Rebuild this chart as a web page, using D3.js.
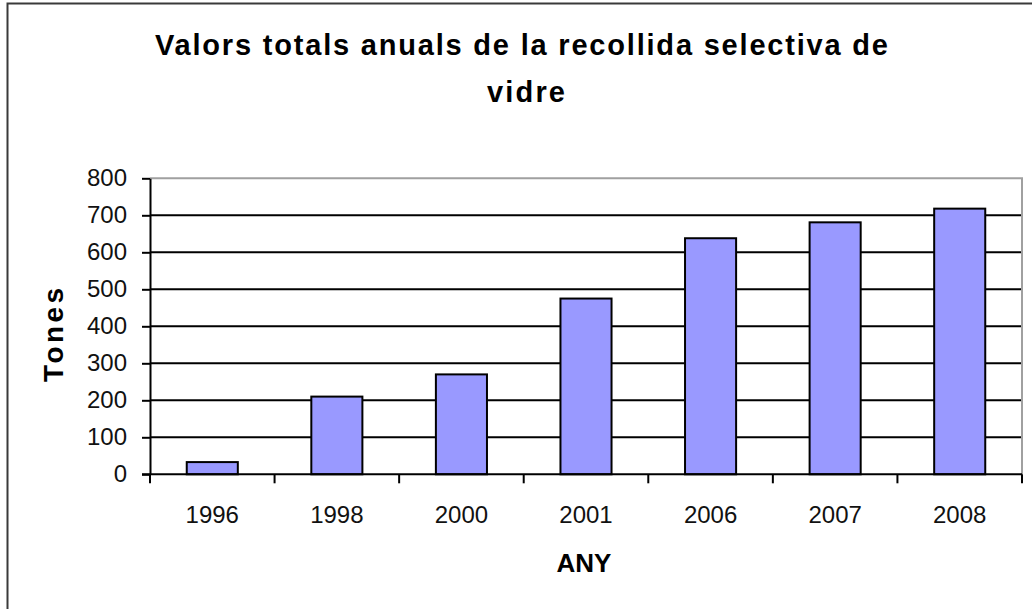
<!DOCTYPE html>
<html>
<head>
<meta charset="utf-8">
<script src="https://cdn.jsdelivr.net/npm/d3@7"></script>
<style>
  body { margin: 0; background: #fff; }
  svg { display: block; font-family: "Liberation Sans", Arial, sans-serif; }
</style>
</head>
<body>
<div id="chart"></div>
<script>
// data
var years = ["1996", "1998", "2000", "2001", "2006", "2007", "2008"];
var tones = [33, 210, 270, 475, 638, 681, 718];
var yTicks = [0, 100, 200, 300, 400, 500, 600, 700, 800];
var titleLines = ["Valors totals anuals de la recollida selectiva de", "vidre"];

var W = 1032, H = 609;
var plot = { left: 150, right: 1022, top: 178.3, bottom: 474.3 };

var svg = d3.select('#chart').append('svg')
    .attr('width', W)
    .attr('height', H);

// outer chart frame (only left and top edges fall inside the picture)
svg.append('rect')
    .attr('x', 7.5).attr('y', 3.5)
    .attr('width', W + 20).attr('height', H + 20)
    .attr('fill', '#fff')
    .attr('stroke', '#3a3a3a')
    .attr('stroke-width', 2);

// title
svg.append('text')
    .attr('x', 155).attr('y', 55)
    .attr('font-size', '29px').attr('font-weight', 'bold')
    .attr('textLength', 733).attr('lengthAdjust', 'spacing')
    .attr('fill', '#000')
    .text(titleLines[0]);
svg.append('text')
    .attr('x', 487).attr('y', 101.7)
    .attr('font-size', '29px').attr('font-weight', 'bold')
    .attr('textLength', 78).attr('lengthAdjust', 'spacing')
    .attr('fill', '#000')
    .text(titleLines[1]);

// scales
var xCat = d3.scaleBand().domain(years).range([plot.left, plot.right]).padding(0);
var xBar = d3.scaleBand().domain(years).range([plot.left, plot.right])
    .paddingInner(0.59).paddingOuter(0.295);
var y = d3.scaleLinear().domain([0, 800]).range([plot.bottom, plot.top]);

// gridlines
svg.append('g')
    .selectAll('line')
    .data(yTicks.filter(d => d > 0 && d < 800))
    .join('line')
    .attr('x1', plot.left).attr('x2', plot.right)
    .attr('y1', d => y(d)).attr('y2', d => y(d))
    .attr('stroke', '#000').attr('stroke-width', 2);

// plot area border (gray top/right)
svg.append('path')
    .attr('d', `M${plot.left},${y(800)}H${plot.right}V${plot.bottom}`)
    .attr('fill', 'none')
    .attr('stroke', '#a0a0a0').attr('stroke-width', 2);

// bars
svg.append('g')
    .selectAll('rect')
    .data(tones)
    .join('rect')
    .attr('x', (d, i) => xBar(years[i]))
    .attr('y', d => y(d))
    .attr('width', xBar.bandwidth())
    .attr('height', d => y(0) - y(d))
    .attr('fill', '#9999ff')
    .attr('stroke', '#000')
    .attr('stroke-width', 2);

// y axis
var yAxis = svg.append('g')
    .attr('transform', `translate(${plot.left},0)`)
    .call(d3.axisLeft(y).tickValues(yTicks).tickSize(8).tickPadding(15).tickSizeOuter(0));
yAxis.select('.domain').attr('stroke', '#000').attr('stroke-width', 2);
yAxis.selectAll('.tick line').attr('stroke', '#000').attr('stroke-width', 2);
yAxis.selectAll('.tick text')
    .attr('font-size', '24px')
    .attr('font-family', '"Liberation Sans", Arial, sans-serif')
    .attr('fill', '#111');

// x axis: ticks at category boundaries
var xg = svg.append('g');
xg.append('line')
    .attr('x1', plot.left - 8).attr('x2', plot.right)
    .attr('y1', plot.bottom).attr('y2', plot.bottom)
    .attr('stroke', '#000').attr('stroke-width', 2);
xg.selectAll('line.tk')
    .data(years.concat(['end']))
    .join('line')
    .attr('class', 'tk')
    .attr('x1', (d, i) => i < years.length ? xCat(d) : plot.right)
    .attr('x2', (d, i) => i < years.length ? xCat(d) : plot.right)
    .attr('y1', plot.bottom).attr('y2', plot.bottom + 9)
    .attr('stroke', '#000').attr('stroke-width', 2);
xg.selectAll('text')
    .data(years)
    .join('text')
    .attr('x', d => xCat(d) + xCat.bandwidth() / 2)
    .attr('y', 523)
    .attr('text-anchor', 'middle')
    .attr('font-size', '24px')
    .attr('fill', '#111')
    .text(d => d);

// axis titles
svg.append('text')
    .attr('x', (plot.left + plot.right) / 2 - 2)
    .attr('y', 571.7)
    .attr('text-anchor', 'middle')
    .attr('font-size', '26px').attr('font-weight', 'bold')
    .text('ANY');

svg.append('text')
    .attr('transform', `translate(63,335) rotate(-90)`)
    .attr('text-anchor', 'middle')
    .attr('font-size', '28px').attr('font-weight', 'bold')
    .attr('textLength', 94).attr('lengthAdjust', 'spacing')
    .text('Tones');
</script>
</body>
</html>
